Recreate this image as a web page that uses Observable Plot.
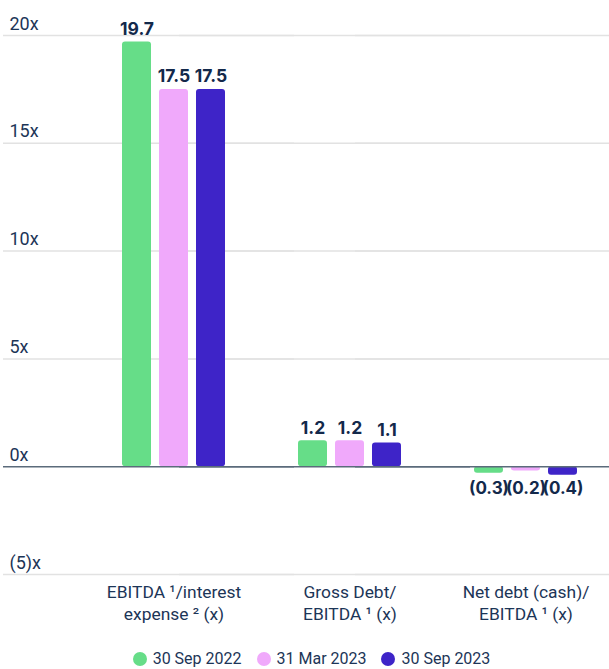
<!DOCTYPE html>
<html>
<head>
<meta charset="utf-8">
<script src="https://cdn.jsdelivr.net/npm/d3@7"></script>
<script src="https://cdn.jsdelivr.net/npm/@observablehq/plot@0.6"></script>
<style>
  html, body { margin: 0; padding: 0; background: #fff; }
  #chart { width: 609px; }
  .legend { display: flex; justify-content: center; align-items: center; gap: 15px;
    font-family: Roboto, sans-serif; font-size: 16px; color: #1c3557; margin-top: 19px; padding-left: 14px; }
  .legend span.item { display: flex; align-items: center; gap: 6px; }
  .legend span.dot { width: 14px; height: 14px; border-radius: 50%; display: inline-block; }
</style>
</head>
<body>
<div id="chart"></div>
<script>
const categories = ["EBITDA ¹/interest\nexpense ² (x)", "Gross Debt/\nEBITDA ¹ (x)", "Net debt (cash)/\nEBITDA ¹ (x)"];
const series = ["30 Sep 2022", "31 Mar 2023", "30 Sep 2023"];
const values_30Sep2022 = [19.7, 1.2, -0.3];
const values_31Mar2023 = [17.5, 1.2, -0.2];
const values_30Sep2023 = [17.5, 1.1, -0.4];
const colors = ["#66dd88", "#f0a9fb", "#3e24c8"];
const yTicks = [-5, 0, 5, 10, 15, 20];

const seriesValues = [values_30Sep2022, values_31Mar2023, values_30Sep2023];
const data = [];
categories.forEach((c, i) => series.forEach((s, j) => data.push({category: c, series: s, value: seriesValues[j][i]})));

const fmtTick = v => v < 0 ? `(${-v})x` : `${v}x`;
const fmtVal = v => v < 0 ? `(${(-v).toFixed(1)})` : v.toFixed(1);

const navy = "#1c3557";
const plot = Plot.plot({
  width: 609, height: 630,
  marginLeft: 8, marginRight: 0, marginTop: 35, marginBottom: 56,
  style: {fontFamily: "Roboto, sans-serif", background: "#fff"},
  fx: {domain: categories, paddingInner: 0.313, paddingOuter: 0.359, align: 0.822, axis: null, label: null},
  x: {domain: series, padding: 0.206, axis: null},
  y: {domain: [-5, 20], axis: null},
  color: {domain: series, range: colors},
  marks: [
    Plot.ruleY(yTicks.filter(d => d !== 0), {y: d => d, stroke: "#e2e2e2", strokeWidth: 1.5, insetLeft: -110, insetRight: -60}),
    Plot.text(yTicks, {fx: () => categories[0], y: d => d, text: fmtTick, frameAnchor: "left", textAnchor: "start", lineAnchor: "bottom", dx: -104, dy: -6, fontSize: 18, fill: navy}),
    Plot.barY(data, {fx: "category", x: "series", y: "value", fill: "series", rx: 3}),
    Plot.ruleY([0], {stroke: "#5b6b7b", strokeWidth: 1.5, insetLeft: -110, insetRight: -60}),
    Plot.text(data.filter(d => d.value >= 0), {fx: "category", x: "series", y: "value", text: d => fmtVal(d.value), lineAnchor: "bottom", dy: -7, fontFamily: "Inter, sans-serif", fontWeight: 700, fontSize: 17.5, fill: "#13294b"}),
    Plot.text(data.filter(d => d.value < 0), {fx: "category", x: "series", y: d => 0, text: d => fmtVal(d.value), lineAnchor: "top", dy: 15, fontFamily: "Inter, sans-serif", fontWeight: 700, fontSize: 17, fill: "#13294b"}),
    Plot.text(categories, {fx: d => d, text: d => d, frameAnchor: "bottom", lineAnchor: "top", dy: 8, fontSize: 17.4, lineHeight: 1.25, fill: navy})
  ]
});
document.getElementById("chart").appendChild(plot);

const legend = document.createElement("div");
legend.className = "legend";
series.forEach((s, i) => {
  const item = document.createElement("span");
  item.className = "item";
  const dot = document.createElement("span");
  dot.className = "dot";
  dot.style.background = colors[i];
  const label = document.createElement("span");
  label.textContent = s;
  item.appendChild(dot); item.appendChild(label);
  legend.appendChild(item);
});
document.getElementById("chart").appendChild(legend);
</script>
</body>
</html>
